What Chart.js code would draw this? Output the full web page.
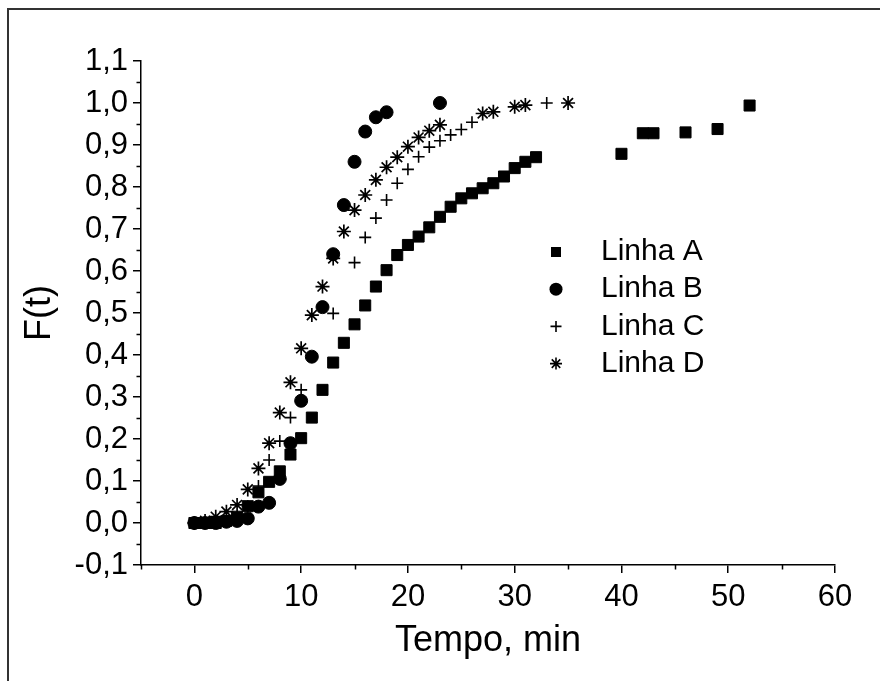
<!DOCTYPE html>
<html>
<head>
<meta charset="utf-8">
<script src="https://cdn.jsdelivr.net/npm/chart.js@4.4.0/dist/chart.umd.min.js"></script>
<style>
  html, body { margin: 0; padding: 0; background: #fff; }
  #wrap { position: relative; width: 880px; height: 681px; overflow: hidden; }
  #frame { position: absolute; left: 7px; top: 8px; width: 900px; height: 700px;
           border-left: 2px solid #333; border-top: 2px solid #333; }
  canvas { position: absolute; left: 0; top: 0; }
</style>
</head>
<body>
<div id="wrap">
  <div id="frame"></div>
  <canvas id="chart" width="880" height="681"></canvas>
</div>
<script>
// series names
const seriesNames = ["Linha A", "Linha B", "Linha C", "Linha D"];

// Linha A
const tempoA = [0, 1, 2, 3, 4, 5, 6, 7, 8, 9, 10, 11, 12, 13, 14, 15, 16, 17, 18, 19, 20,
  21, 22, 23, 24, 25, 26, 27, 28, 29, 30, 31, 32, 40, 42, 43, 46, 49, 52];
const ftA = [0, 0, 0, 0.005, 0.015, 0.04, 0.073, 0.098, 0.123, 0.163, 0.202, 0.251, 0.317,
  0.382, 0.429, 0.473, 0.518, 0.563, 0.602, 0.638, 0.662, 0.682, 0.704, 0.729, 0.753,
  0.773, 0.785, 0.797, 0.809, 0.825, 0.845, 0.86, 0.871, 0.879, 0.928, 0.928, 0.93, 0.938, 0.994];

// Linha B
const tempoB = [0, 1, 2, 3, 4, 5, 6, 7, 8, 9, 10, 11, 12, 13, 14, 15, 16, 17, 18, 23];
const ftB = [0, 0, 0, 0.003, 0.005, 0.011, 0.039, 0.048, 0.105, 0.19, 0.291, 0.396, 0.514,
  0.64, 0.757, 0.86, 0.932, 0.966, 0.978, 1.0];

// Linha C
const tempoC = [0, 1, 2, 3, 4, 5, 6, 7, 8, 9, 10, 13, 15, 16, 17, 18, 19, 20, 21, 22, 23,
  24, 25, 26, 33];
const ftC = [0, 0, 0.003, 0.005, 0.007, 0.04, 0.088, 0.15, 0.195, 0.251, 0.317, 0.499, 0.62,
  0.68, 0.726, 0.769, 0.809, 0.842, 0.872, 0.895, 0.91, 0.924, 0.937, 0.954, 1.0];

// Linha D
const tempoD = [0, 1, 2, 3, 4, 5, 6, 7, 8, 9, 10, 11, 12, 13, 14, 15, 16, 17, 18, 19, 20,
  21, 22, 23, 27, 28, 30, 31, 35];
const ftD = [0, 0.005, 0.015, 0.027, 0.043, 0.08, 0.13, 0.19, 0.263, 0.335, 0.416, 0.495,
  0.563, 0.63, 0.694, 0.745, 0.781, 0.817, 0.847, 0.871, 0.896, 0.918, 0.934, 0.948,
  0.975, 0.979, 0.991, 0.995, 1.0];

// ticks
const xTicks = [0, 10, 20, 30, 40, 50, 60];
const xMinorTicks = [-5, 5, 15, 25, 35, 45, 55];
const yTicks = [-0.1, 0, 0.1, 0.2, 0.3, 0.4, 0.5, 0.6, 0.7, 0.8, 0.9, 1.0, 1.1];
const yMinorTicks = [-0.05, 0.05, 0.15, 0.25, 0.35, 0.45, 0.55, 0.65, 0.75, 0.85, 0.95, 1.05];

const FONT = '"Liberation Sans", Arial, sans-serif';
const toPoints = (xs, ys) => xs.map((x, i) => ({ x: x, y: ys[i] }));
const fmtY = v => (Math.abs(v) < 1e-9 ? 0 : v).toFixed(1).replace(".", ",");

// marcador da legenda
const drawMarker = (ctx, style, x, y, r) => {
  ctx.beginPath();
  if (style === "rect") {
    ctx.rect(x - r, y - r, 2 * r, 2 * r);
    ctx.fill();
  } else if (style === "circle") {
    ctx.arc(x, y, r, 0, Math.PI * 2);
    ctx.fill();
  } else {
    ctx.moveTo(x - r, y); ctx.lineTo(x + r, y);
    ctx.moveTo(x, y - r); ctx.lineTo(x, y + r);
    if (style === "star") {
      const d = r * Math.SQRT1_2;
      ctx.moveTo(x - d, y - d); ctx.lineTo(x + d, y + d);
      ctx.moveTo(x - d, y + d); ctx.lineTo(x + d, y - d);
    }
    ctx.stroke();
  }
};

const legendStyles = ["rect", "circle", "cross", "star"];
const legendSizes = [5, 6.5, 5.5, 6];

const insideLegend = {
  id: "insideLegend",
  afterDatasetsDraw(chart) {
    const ctx = chart.ctx;
    ctx.save();
    ctx.fillStyle = "#000";
    ctx.strokeStyle = "#000";
    ctx.lineWidth = 1.6;
    ctx.font = "30px " + FONT;
    ctx.textBaseline = "middle";
    seriesNames.forEach((name, i) => {
      const y = 252 + i * 37.2;
      drawMarker(ctx, legendStyles[i], 556, y, legendSizes[i]);
      ctx.fillText(name, 601, y);
    });
    ctx.restore();
  }
};

// ticks menores
const minorTicks = {
  id: "minorTicks",
  afterDraw(chart) {
    const { ctx, scales: { x, y } } = chart;
    ctx.save();
    ctx.strokeStyle = "#000";
    ctx.lineWidth = 1.5;
    ctx.beginPath();
    xMinorTicks.forEach(v => {
      const px = Math.round(x.getPixelForValue(v)) + 0.5;
      ctx.moveTo(px, x.top);
      ctx.lineTo(px, x.top + 4.5);
    });
    yMinorTicks.forEach(v => {
      const py = Math.round(y.getPixelForValue(v)) + 0.5;
      ctx.moveTo(y.right, py);
      ctx.lineTo(y.right - 4.5, py);
    });
    ctx.stroke();
    ctx.restore();
  }
};

const axisGrid = {
  display: true,
  drawOnChartArea: false,
  drawTicks: true,
  tickLength: 8,
  color: "#000",
  lineWidth: 1.5
};

new Chart(document.getElementById("chart"), {
  type: "scatter",
  data: {
    datasets: [
      { label: seriesNames[0], data: toPoints(tempoA, ftA), pointStyle: "rect", pointRadius: 7.8,
        backgroundColor: "#000", borderColor: "#000", borderWidth: 1, order: 3 },
      { label: seriesNames[1], data: toPoints(tempoB, ftB), pointStyle: "circle", pointRadius: 6.5,
        backgroundColor: "#000", borderColor: "#000", borderWidth: 1, order: 2 },
      { label: seriesNames[2], data: toPoints(tempoC, ftC), pointStyle: "cross", pointRadius: 6,
        backgroundColor: "#000", borderColor: "#000", borderWidth: 1.6, order: 1 },
      { label: seriesNames[3], data: toPoints(tempoD, ftD), pointStyle: "star", pointRadius: 7,
        backgroundColor: "#000", borderColor: "#000", borderWidth: 1.7, order: 0 }
    ]
  },
  options: {
    responsive: false,
    animation: false,
    events: [],
    layout: { padding: { left: 0, top: 61, right: 45, bottom: 0 } },
    plugins: {
      legend: { display: false },
      tooltip: { enabled: false }
    },
    scales: {
      x: {
        type: "linear",
        min: -5,
        max: 60,
        afterBuildTicks: scale => { scale.ticks = xTicks.map(v => ({ value: v })); },
        afterFit: scale => { scale.height = 116; },
        grid: axisGrid,
        border: { display: true, color: "#000", width: 1.5 },
        ticks: { color: "#000", padding: 6, font: { family: FONT, size: 31 }, maxRotation: 0 },
        title: { display: true, text: "Tempo, min", color: "#000",
                 font: { family: FONT, size: 36 }, padding: { top: 0, bottom: 18 } }
      },
      y: {
        type: "linear",
        min: -0.1,
        max: 1.1,
        afterBuildTicks: scale => { scale.ticks = yTicks.map(v => ({ value: v })); },
        afterFit: scale => { scale.width = 141; },
        grid: axisGrid,
        border: { display: true, color: "#000", width: 1.5 },
        ticks: { color: "#000", padding: 5, font: { family: FONT, size: 31 },
                 callback: v => fmtY(v) },
        title: { display: true, text: "F(t)", color: "#000",
                 font: { family: FONT, size: 36 }, padding: { top: 18, bottom: 0 } }
      }
    }
  },
  plugins: [insideLegend, minorTicks]
});
</script>
</body>
</html>
